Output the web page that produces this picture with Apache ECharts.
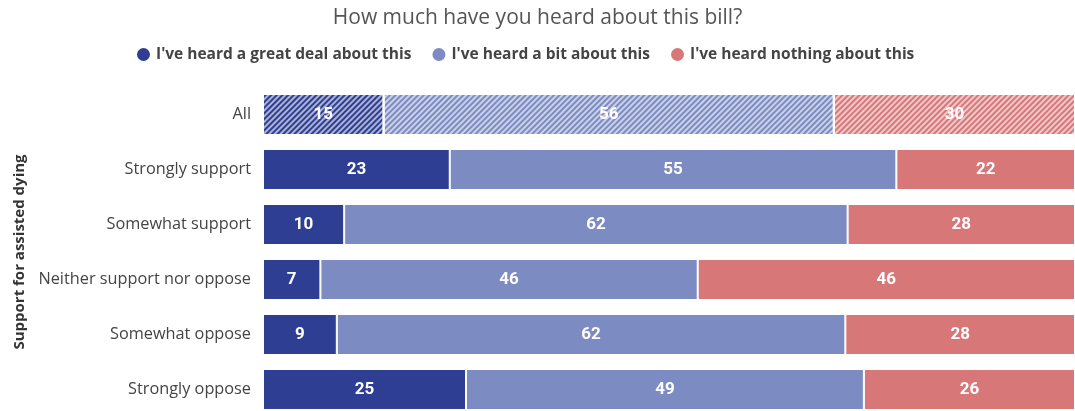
<!DOCTYPE html>
<html><head><meta charset="utf-8">
<script src="https://cdn.jsdelivr.net/npm/echarts@6/dist/echarts.min.js"></script>
<style>html,body{margin:0;padding:0;background:#fff}#c{width:1075px;height:411px}</style>
</head><body><div id="c"></div>
<script>
const categories = ['All','Strongly support','Somewhat support','Neither support nor oppose','Somewhat oppose','Strongly oppose'];
const seriesNames = ["I've heard a great deal about this","I've heard a bit about this","I've heard nothing about this"];
const greatDeal = [15,23,10,7,9,25];
const aBit = [56,55,62,46,62,49];
const nothing = [30,22,28,46,28,26];
const colors = ['#2e3f93','#7c8bc2','#d87777'];
const raw = [greatDeal, aBit, nothing];
const totals = categories.map((c,i)=>greatDeal[i]+aBit[i]+nothing[i]);

const chart = echarts.init(document.getElementById('c'));
const series = raw.map((arr,si)=>({
  name: seriesNames[si],
  type:'bar',
  stack:'s',
  barWidth: 41,
  itemStyle:{color:colors[si], borderColor:'#fff', borderWidth:1},
  label:{show:true, position:'inside', color:'#fff', fontFamily:'Roboto', fontWeight:'bold', fontSize:17,
    formatter:p=>String(raw[si][p.dataIndex])},
  data: arr.map((v,i)=>{
    const item = {value: v/totals[i]*100};
    if(i===0){
      item.itemStyle = {decal:{symbol:'rect', color:'rgba(255,255,255,0.6)', dashArrayX:[1,0], dashArrayY:[1.5,1.5], rotation:-Math.PI/4}};
    }
    return item;
  })
}));
chart.setOption({
  aria:{enabled:false},
  title:{text:'How much have you heard about this bill?', left:'center', top:3,
    textStyle:{fontFamily:'Open Sans', fontWeight:'normal', fontSize:21, color:'#555'}},
  legend:{top:41, left:130, icon:'circle', itemWidth:15, itemHeight:15, itemGap:19,
    textStyle:{fontFamily:'Open Sans', fontWeight:'bold', fontSize:15.5, color:'#444'}},
  grid:{left:263, right:0, top:87, bottom:-6, containLabel:false, outerBoundsMode:'none'},
  xAxis:{type:'value', min:0, max:100, show:false},
  yAxis:{type:'category', data:categories, inverse:true,
    axisLine:{show:false}, axisTick:{show:false},
    axisLabel:{fontFamily:'Open Sans', fontSize:16.3, color:'#444', margin:12},
    name:'Support for assisted dying', nameLocation:'middle', nameRotate:90, nameGap:236,
    nameTextStyle:{fontFamily:'Open Sans', fontWeight:'bold', fontSize:15, color:'#333'}},
  series: series
});
</script></body></html>
